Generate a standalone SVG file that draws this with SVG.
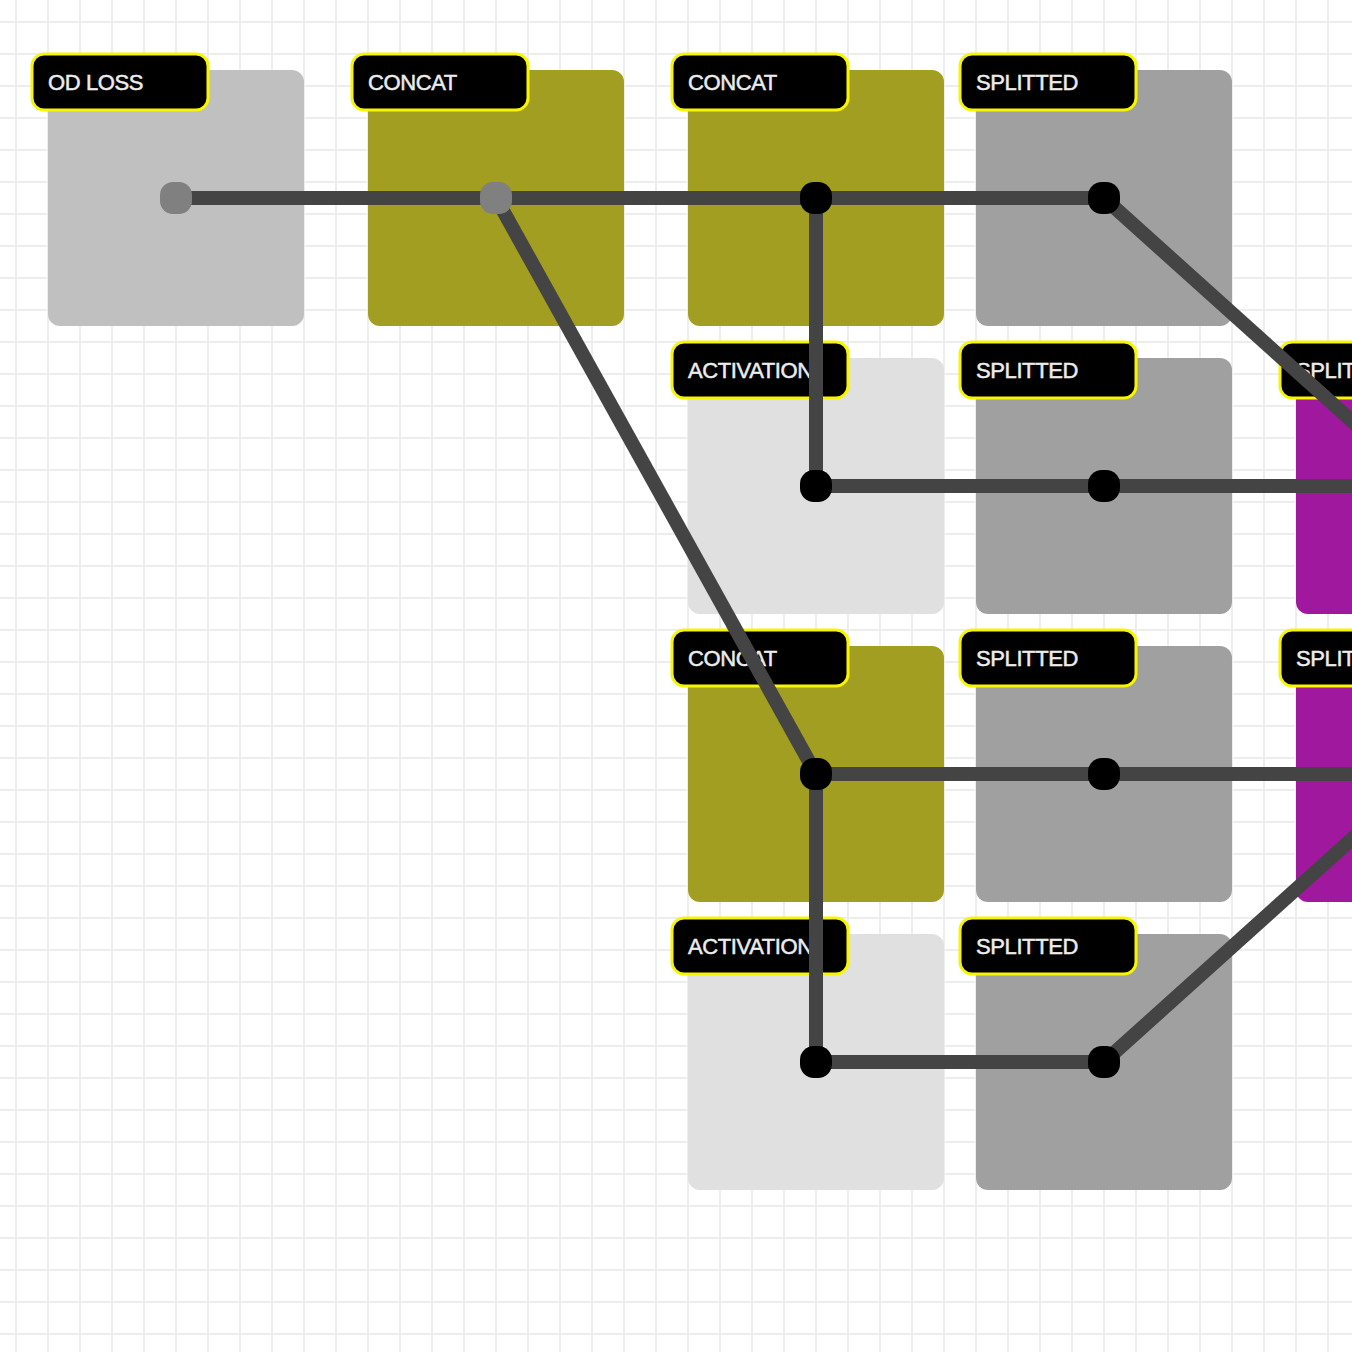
<svg xmlns="http://www.w3.org/2000/svg" width="1352" height="1352" viewBox="0 0 1352 1352">
  <style>
    .box { rx: 12px; ry: 12px; }
    .loss { fill: #c0c0c0; }
    .concat { fill: #a19e21; }
    .split { fill: #a0a0a0; }
    .act { fill: #e0e0e0; }
    .purple { fill: #a0189e; }
    .tag { fill: #000000; stroke: #f7f500; stroke-width: 3; }
    .tag-text { fill: #ececec; stroke: #ececec; stroke-width: 0.5px; font-family: "Liberation Sans", Arial, sans-serif; font-size: 22px; letter-spacing: -0.4px; }
    .edge { stroke: #444444; stroke-width: 14; fill: none; }
    .port { fill: #000000; }
    .port-in { fill: #808080; }
  </style>
  <defs>
    <pattern id="grid" x="0" y="6" width="32" height="32" patternUnits="userSpaceOnUse">
      <path d="M16 0 V32 M0 16 H32" stroke="#ededed" stroke-width="2" fill="none"/>
    </pattern>
  </defs>

  <!-- background grid -->
  <rect width="1352" height="1352" fill="#ffffff"/>
  <rect width="1352" height="1352" fill="url(#grid)"/>

  <!-- nodes -->
  <g id="node-od-loss">
    <rect class="box loss" x="48" y="70" width="256" height="256"/>
    <rect class="tag" x="32" y="54" width="176" height="56" rx="12"/>
    <text class="tag-text" x="48" y="90">OD LOSS</text>
  </g>
  <g id="node-concat-1">
    <rect class="box concat" x="368" y="70" width="256" height="256"/>
    <rect class="tag" x="352" y="54" width="176" height="56" rx="12"/>
    <text class="tag-text" x="368" y="90">CONCAT</text>
  </g>
  <g id="node-concat-2">
    <rect class="box concat" x="688" y="70" width="256" height="256"/>
    <rect class="tag" x="672" y="54" width="176" height="56" rx="12"/>
    <text class="tag-text" x="688" y="90">CONCAT</text>
  </g>
  <g id="node-splitted-1">
    <rect class="box split" x="976" y="70" width="256" height="256"/>
    <rect class="tag" x="960" y="54" width="176" height="56" rx="12"/>
    <text class="tag-text" x="976" y="90">SPLITTED</text>
  </g>
  <g id="node-activation-1">
    <rect class="box act" x="688" y="358" width="256" height="256"/>
    <rect class="tag" x="672" y="342" width="176" height="56" rx="12"/>
    <text class="tag-text" x="688" y="378">ACTIVATION</text>
  </g>
  <g id="node-splitted-2">
    <rect class="box split" x="976" y="358" width="256" height="256"/>
    <rect class="tag" x="960" y="342" width="176" height="56" rx="12"/>
    <text class="tag-text" x="976" y="378">SPLITTED</text>
  </g>
  <g id="node-split-a">
    <rect class="box purple" x="1296" y="358" width="256" height="256"/>
    <rect class="tag" x="1280" y="342" width="176" height="56" rx="12"/>
    <text class="tag-text" x="1296" y="378">SPLITTED</text>
  </g>
  <g id="node-concat-3">
    <rect class="box concat" x="688" y="646" width="256" height="256"/>
    <rect class="tag" x="672" y="630" width="176" height="56" rx="12"/>
    <text class="tag-text" x="688" y="666">CONCAT</text>
  </g>
  <g id="node-splitted-3">
    <rect class="box split" x="976" y="646" width="256" height="256"/>
    <rect class="tag" x="960" y="630" width="176" height="56" rx="12"/>
    <text class="tag-text" x="976" y="666">SPLITTED</text>
  </g>
  <g id="node-split-b">
    <rect class="box purple" x="1296" y="646" width="256" height="256"/>
    <rect class="tag" x="1280" y="630" width="176" height="56" rx="12"/>
    <text class="tag-text" x="1296" y="666">SPLITTED</text>
  </g>
  <g id="node-activation-2">
    <rect class="box act" x="688" y="934" width="256" height="256"/>
    <rect class="tag" x="672" y="918" width="176" height="56" rx="12"/>
    <text class="tag-text" x="688" y="954">ACTIVATION</text>
  </g>
  <g id="node-splitted-4">
    <rect class="box split" x="976" y="934" width="256" height="256"/>
    <rect class="tag" x="960" y="918" width="176" height="56" rx="12"/>
    <text class="tag-text" x="976" y="954">SPLITTED</text>
  </g>

  <!-- connectors -->
  <g id="connectors">
    <line class="edge" x1="176" y1="198" x2="496" y2="198"/>
    <line class="edge" x1="496" y1="198" x2="816" y2="198"/>
    <line class="edge" x1="816" y1="198" x2="1104" y2="198"/>
    <line class="edge" x1="496" y1="198" x2="816" y2="774"/>
    <line class="edge" x1="816" y1="198" x2="816" y2="486"/>
    <line class="edge" x1="816" y1="486" x2="1104" y2="486"/>
    <line class="edge" x1="1104" y1="486" x2="1424" y2="486"/>
    <line class="edge" x1="1104" y1="198" x2="1424" y2="486"/>
    <line class="edge" x1="816" y1="774" x2="1104" y2="774"/>
    <line class="edge" x1="1104" y1="774" x2="1424" y2="774"/>
    <line class="edge" x1="816" y1="774" x2="816" y2="1062"/>
    <line class="edge" x1="816" y1="1062" x2="1104" y2="1062"/>
    <line class="edge" x1="1104" y1="1062" x2="1424" y2="774"/>
  </g>

  <!-- ports -->
  <g id="ports">
    <rect class="port-in" x="160" y="182" width="32" height="32" rx="13"/>
    <rect class="port-in" x="480" y="182" width="32" height="32" rx="13"/>
    <rect class="port" x="800" y="182" width="32" height="32" rx="14"/>
    <rect class="port" x="1088" y="182" width="32" height="32" rx="14"/>
    <rect class="port" x="800" y="470" width="32" height="32" rx="14"/>
    <rect class="port" x="1088" y="470" width="32" height="32" rx="14"/>
    <rect class="port" x="800" y="758" width="32" height="32" rx="14"/>
    <rect class="port" x="1088" y="758" width="32" height="32" rx="14"/>
    <rect class="port" x="800" y="1046" width="32" height="32" rx="14"/>
    <rect class="port" x="1088" y="1046" width="32" height="32" rx="14"/>
  </g>
</svg>
